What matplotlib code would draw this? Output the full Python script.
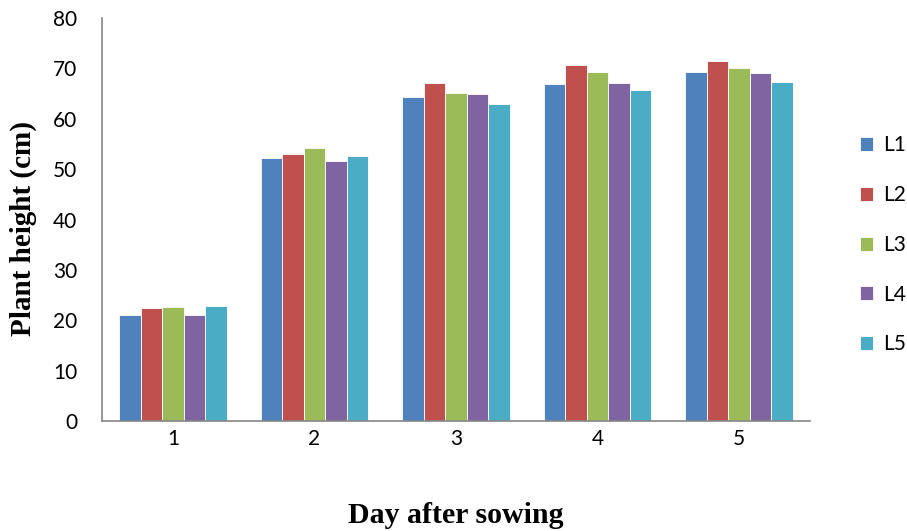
import numpy as np
import matplotlib.pyplot as plt

# Plant height per day after sowing for five lines
days = ['1', '2', '3', '4', '5']
series_names = ['L1', 'L2', 'L3', 'L4', 'L5']
L1 = [21.0, 52.2, 64.4, 66.9, 69.3]
L2 = [22.4, 53.1, 67.1, 70.7, 71.4]
L3 = [22.6, 54.2, 65.2, 69.2, 70.0]
L4 = [21.0, 51.6, 64.9, 67.2, 69.1]
L5 = [22.8, 52.7, 63.0, 65.7, 67.4]
colors = ['#4F81BD', '#C0504D', '#9BBB59', '#8064A2', '#4BACC6']

fig = plt.figure(figsize=(9.07, 5.31), dpi=100)
ax = fig.add_axes([0.1125, 0.2072, 0.7805, 0.7588])

x = np.arange(len(days))
w = 0.152
for i, (vals, name) in enumerate(zip([L1, L2, L3, L4, L5], series_names)):
    ax.bar(x + (i - 2) * w, vals, width=w, color=colors[i], label=name,
           edgecolor='white', linewidth=0.6)

ax.set_xlim(-0.5, 4.5)
ax.set_ylim(0, 80)
ax.set_yticks(range(0, 81, 10))
ax.set_xticks(x)
ax.set_xticklabels(days)

for lab in ax.get_xticklabels() + ax.get_yticklabels():
    lab.set_fontfamily('Lato')
    lab.set_fontsize(15)
ax.tick_params(axis='both', length=0)
ax.tick_params(axis='x', pad=6)
ax.tick_params(axis='y', pad=18)

for s in ['top', 'right']:
    ax.spines[s].set_visible(False)
for s in ['left', 'bottom']:
    ax.spines[s].set_color('#868686')
    ax.spines[s].set_linewidth(1.2)

ax.set_xlabel('Day after sowing', fontfamily='Liberation Serif',
              fontweight='bold', fontsize=21.5, labelpad=38)
ax.set_ylabel('Plant height (cm)', fontfamily='Liberation Serif',
              fontweight='bold', fontsize=21)
ax.yaxis.set_label_coords(-0.092, 0.478)

ax.legend(loc='center left', bbox_to_anchor=(1.044, 0.437), frameon=False,
          prop={'family': 'Lato', 'size': 15}, handlelength=0.65,
          handleheight=0.65, handletextpad=0.45, labelspacing=1.43)

fig.savefig('out.png', dpi=100)
